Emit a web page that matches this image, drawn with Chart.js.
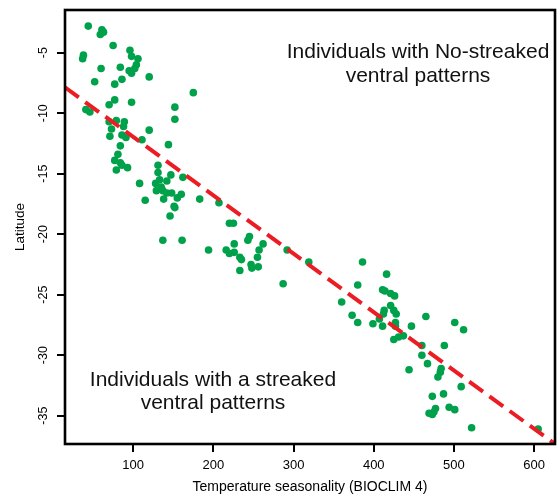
<!DOCTYPE html>
<html>
<head>
<meta charset="utf-8">
<script src="https://cdn.jsdelivr.net/npm/chart.js@4/dist/chart.umd.min.js"></script>
<style>
  body { margin: 0; background: #fff; }
  #wrap { width: 559px; height: 496px; }
</style>
</head>
<body>
<div id="wrap"><canvas id="myChart" width="559" height="496"></canvas></div>
<script>
const tempSeason = [44, 61, 63, 59, 75, 38, 37, 96, 98, 106, 104, 102, 95, 98, 84, 60, 120, 52, 86, 77,
  175, 77, 70, 98, 152, 152, 41, 46, 79, 89, 70, 73, 88, 86, 91, 71, 84, 111, 120, 144,
  147, 131, 131, 108, 115, 81, 77, 79, 93, 84, 86, 128, 129, 133, 142, 135, 137, 142, 138, 148,
  151, 152, 146, 160, 155, 183, 162, 207, 220, 225, 226, 245, 243, 137, 161, 194, 216, 220, 226, 233,
  235, 262, 257, 255, 247, 248, 256, 233, 287, 292, 319, 386, 416, 380, 411, 414, 421, 426, 360, 421,
  425, 413, 412, 428, 373, 465, 407, 380, 399, 411, 427, 427, 447, 501, 512, 425, 431, 437, 460, 488,
  460, 467, 444, 484, 483, 480, 509, 473, 487, 477, 475, 473, 469, 494, 501, 522, 605];
const latitude = [-2.8, -3.1, -3.3, -3.5, -4.4, -5.2, -5.5, -4.8, -5.3, -5.5, -6.0, -6.3, -6.5, -6.7, -6.2, -6.3, -7.0, -7.4, -7.2, -7.6,
  -8.3, -8.9, -9.3, -9.1, -9.5, -10.5, -9.7, -9.9, -10.6, -10.7, -10.7, -11.3, -11.1, -11.8, -12.0, -11.9, -12.7, -12.2, -11.4, -12.6,
  -15.1, -14.3, -14.9, -15.8, -17.2, -13.4, -13.9, -14.7, -14.5, -14.1, -14.3, -15.8, -16.4, -15.5, -15.6, -16.1, -16.4, -16.6, -17.1, -16.6,
  -17.7, -17.8, -18.5, -16.7, -17.0, -17.1, -15.3, -17.4, -19.1, -19.1, -20.8, -20.2, -20.5, -20.5, -20.5, -21.3, -21.3, -21.6, -21.5, -21.9,
  -22.1, -20.8, -21.3, -21.9, -22.5, -22.8, -22.7, -23.0, -24.1, -21.3, -22.3, -22.3, -23.3, -24.2, -24.6, -24.7, -24.9, -25.1, -25.6, -25.9,
  -26.3, -26.3, -26.6, -26.6, -26.7, -26.8, -27.0, -27.3, -27.4, -27.6, -27.3, -27.6, -27.6, -27.3, -27.9, -28.7, -28.5, -28.4, -29.2, -29.2,
  -30.0, -30.7, -31.2, -31.1, -31.4, -31.8, -32.6, -33.4, -33.2, -34.4, -34.7, -34.9, -34.8, -34.3, -34.5, -36.0, -36.1];

// dashed separation line, two end values
const trendX = [15, 626];
const trendY = [-7.86, -37.34];

const xTicks = [100, 200, 300, 400, 500, 600];
const yTicks = [-5, -10, -15, -20, -25, -30, -35];

const FONT = "'Liberation Sans', Arial, Helvetica, sans-serif";

const points = tempSeason.map((x, i) => ({ x: x, y: latitude[i] }));
const trend = trendX.map((x, i) => ({ x: x, y: trendY[i] }));

const extras = {
  id: 'extras',
  afterDraw(chart) {
    const c = chart.ctx;
    const a = chart.chartArea;
    const ys = chart.scales.y;
    c.save();
    // box
    c.strokeStyle = '#000';
    c.lineWidth = 2.6;
    c.strokeRect(a.left, a.top, a.right - a.left, a.bottom - a.top);
    // rotated y tick labels
    c.fillStyle = '#000';
    c.font = '12.5px ' + FONT;
    c.textAlign = 'center';
    c.textBaseline = 'middle';
    yTicks.forEach(v => {
      const py = ys.getPixelForValue(v);
      c.save();
      c.translate(44, py);
      c.rotate(-Math.PI / 2);
      c.fillText(String(v), 0, 0);
      c.restore();
    });
    // annotations
    c.fillStyle = '#111';
    c.font = '21px ' + FONT;
    c.textBaseline = 'alphabetic';
    c.fillText('Individuals with No-streaked', 418, 58);
    c.fillText('ventral patterns', 418, 81.5);
    c.fillText('Individuals with a streaked', 213, 385.5);
    c.fillText('ventral patterns', 213, 408.5);
    c.restore();
  }
};

const ctx = document.getElementById('myChart');

new Chart(ctx, {
  type: 'scatter',
  data: {
    datasets: [
      {
        type: 'line',
        data: trend,
        borderColor: '#ec1c24',
        borderWidth: 4,
        borderDash: [17, 8],
        pointRadius: 0,
        fill: false,
        order: 0
      },
      {
        data: points,
        backgroundColor: '#00a14b',
        borderWidth: 0,
        pointRadius: 3.8,
        order: 1
      }
    ]
  },
  options: {
    responsive: false,
    animation: false,
    layout: { padding: { top: 10, right: 2, left: 0, bottom: 0 } },
    plugins: {
      legend: { display: false },
      tooltip: { enabled: false }
    },
    scales: {
      x: {
        type: 'linear',
        min: 15,
        max: 626,
        afterBuildTicks: s => { s.ticks = xTicks.map(v => ({ value: v })); },
        afterFit: s => { s.height = 52; },
        border: { display: false },
        grid: { drawOnChartArea: false, drawTicks: true, tickLength: 8, color: '#000', lineWidth: 2 },
        ticks: { color: '#000', font: { family: FONT, size: 13 }, padding: 6, maxRotation: 0 },
        title: {
          display: true,
          text: 'Temperature seasonality (BIOCLIM 4)',
          color: '#000',
          font: { family: FONT, size: 14 },
          padding: { top: 0, bottom: 0 }
        }
      },
      y: {
        type: 'linear',
        min: -37.34,
        max: -1.47,
        afterBuildTicks: s => { s.ticks = yTicks.map(v => ({ value: v })); },
        afterFit: s => { s.width = 65; },
        border: { display: false },
        grid: { drawOnChartArea: false, drawTicks: true, tickLength: 8, color: '#000', lineWidth: 2 },
        ticks: { display: false },
        title: {
          display: true,
          text: 'Latitude',
          color: '#000',
          font: { family: FONT, size: 13.5 },
          padding: { top: 12, bottom: 0 }
        }
      }
    }
  },
  plugins: [extras]
});
</script>
</body>
</html>
